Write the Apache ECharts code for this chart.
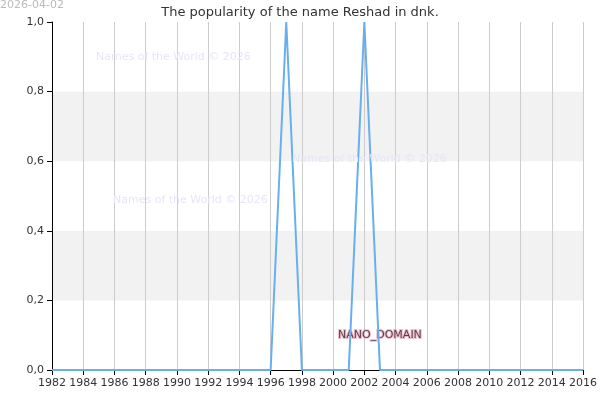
<!DOCTYPE html>
<html lang="en" style="height: 100%">
<head>
  <meta charset="utf-8">
</head>
<body style="height: 100%; margin: 0; background-color:#ffffff;">
  <div id="container" style="height: 100%"></div>

<script src="https://fastly.jsdelivr.net/npm/echarts@6/dist/echarts.min.js"></script>

<script>
  var dom = document.getElementById('container');
  var myChart = echarts.init(dom);

  var years = [1982, 1983, 1984, 1985, 1986, 1987, 1988, 1989, 1990, 1991, 1992, 1993, 1994, 1995, 1996,
    1997, 1998, 1999, 2000, 2001, 2002, 2003, 2004, 2005, 2006, 2007, 2008, 2009, 2010, 2011, 2012,
    2013, 2014, 2015, 2016];
  var popularity = [0, 0, 0, 0, 0, 0, 0, 0, 0, 0, 0, 0, 0, 0, 0,
    1, 0, 0, 0, 0, 1, 0, 0, 0, 0, 0, 0, 0, 0, 0, 0,
    0, 0, 0, 0];
  var labelPoint = [2003, 0.1];
  var watermarks = [
    { text: 'Names of the World © 2026', left: 96, top: 52 },
    { text: 'Names of the World © 2026', left: 292, top: 154 },
    { text: 'Names of the World © 2026', left: 113, top: 195 }
  ];

  var option = {
    animation: false,
    title: {
      text: 'The popularity of the name Reshad in dnk.',
      left: 'center', top: 1,
      textStyle: { fontFamily: 'DejaVu Sans', fontSize: 13, fontWeight: 'normal', color: '#333' }
    },
    graphic: [{
      type: 'text', left: 0, top: 0,
      style: { text: '2026-04-02', fill: '#bbb', font: '11px DejaVu Sans' }
    }].concat(watermarks.map(w => ({
      type: 'text', left: w.left, top: w.top, z: 100,
      style: { text: w.text, fill: '#e6e6f8', font: '11px DejaVu Sans' }
    }))),
    grid: { left: 52, right: 15, top: 22, bottom: 30 },
    xAxis: {
      type: 'value', min: 1982, max: 2016, interval: 2,
      axisLine: { lineStyle: { color: '#000' } },
      axisTick: { show: true, lineStyle: { color: '#000' } },
      axisLabel: { color: '#333', fontFamily: 'DejaVu Sans', fontSize: 11, formatter: v => String(v) },
      splitLine: { show: true, lineStyle: { color: '#ccc' } }
    },
    yAxis: {
      type: 'value', min: 0, max: 1, interval: 0.2,
      axisLine: { show: true, lineStyle: { color: '#000' } },
      axisTick: { show: true, lineStyle: { color: '#000' } },
      axisLabel: { color: '#333', fontFamily: 'DejaVu Sans', fontSize: 11,
        formatter: v => v.toFixed(1).replace('.', ',') },
      splitLine: { show: false },
      splitArea: { show: true, areaStyle: { color: ['#ffffff', '#f2f2f2'] } }
    },
    series: [{
      type: 'line',
      data: years.map((y, i) => [y, popularity[i]]),
      showSymbol: false,
      lineStyle: { color: '#6aaef0', width: 2 }
    }, {
      type: 'scatter',
      data: [labelPoint],
      symbolSize: 1,
      itemStyle: { color: 'rgba(0,0,0,0)' },
      label: {
        show: true, formatter: 'NANO_DOMAIN', position: 'inside',
        color: '#3a1a22', textBorderColor: '#e8b0c0', textBorderWidth: 2,
        fontFamily: 'DejaVu Sans', fontSize: 11
      }
    }]
  };

  myChart.setOption(option);
  window.addEventListener('resize', myChart.resize);
</script>

</body>
</html>
